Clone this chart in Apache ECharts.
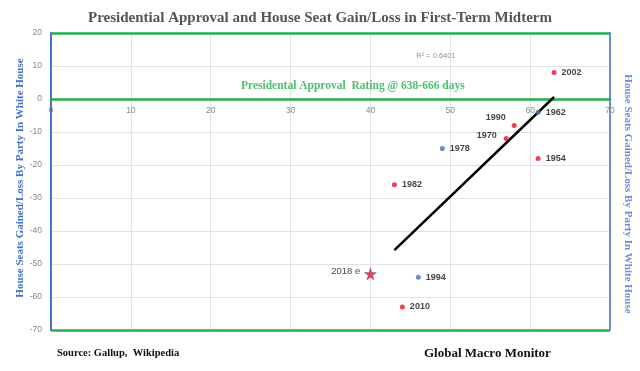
<!DOCTYPE html>
<html><head><meta charset="utf-8">
<script src="https://cdn.jsdelivr.net/npm/echarts@6/dist/echarts.min.js"></script>
<style>html,body{margin:0;padding:0;background:#fff}#c{width:640px;height:371px}</style>
</head><body><div id="c"></div>
<script>
const years = ['2002','1962','1990','1970','1978','1954','1982','1994','2010','2018 e'];
const approval = [63, 61, 58, 57, 49, 61, 43, 46, 44, 40];
const seats = [8, -4, -8, -12, -15, -18, -26, -54, -63, -53];
const dotColor = ['red','blue','red','red','blue','red','red','blue','red','star'];
const trendX = [43, 63];
const trendY = [-45.8, 0.6];

const RED = '#e8102a', BLUE = '#4472c4', GREEN = '#1fb04a', LBLUE = '#6a8fd8';
const starPath = 'path://M50,0 L61,35 L98,35 L68,57 L79,91 L50,70 L21,91 L32,57 L2,35 L39,35 Z';
const labelPos = {'1990':[-26,-10], '1970':[-27,-5], '2018 e':[-33,-1]};
const pts = years.map((y,i)=>{
  const isStar = dotColor[i]==='star';
  const off = labelPos[y];
  return {
    value:[approval[i], seats[i]],
    name:y,
    symbol: isStar ? starPath : 'circle',
    symbolSize: isStar ? 12 : 5,
    itemStyle:{color: isStar ? RED : (dotColor[i]==='blue'?BLUE:RED),
               borderColor: isStar ? '#2a3a8a' : null, borderWidth: isStar?0.4:0},
    label:{show:true, formatter:y, position: off ? off : 'right', distance:5,
           fontWeight: isStar ? 'normal' : 'bold', fontSize: isStar ? 9.5 : 9}
  };
});

const chart = echarts.init(document.getElementById('c'));
chart.setOption({
  animation:false,
  title:{text:'Presidential Approval and House Seat Gain/Loss in First-Term Midterm',
    left:'center', top:6,
    textStyle:{fontFamily:'Liberation Serif', fontWeight:'bold', fontSize:15, color:'#555'}},
  grid:{left:51, right:30, top:33, bottom:41},
  xAxis:{type:'value', min:0, max:70, interval:10, position:'bottom', offset:-231,
    axisLine:{show:true, onZero:false, lineStyle:{color:GREEN, width:2.5}},
    axisTick:{show:false},
    axisLabel:{color:'#888', fontSize:8.5, fontFamily:'Liberation Sans', margin:7},
    splitLine:{show:true, lineStyle:{color:'#e2e2e2', width:1}}},
  yAxis:[{type:'value', min:-70, max:20, interval:10,
    axisLine:{show:true, onZero:false, lineStyle:{color:BLUE, width:2}},
    axisTick:{show:false},
    axisLabel:{color:'#888', fontSize:8.5, fontFamily:'Liberation Sans', margin:9},
    splitLine:{show:true, lineStyle:{color:'#e2e2e2', width:1}}},
   {type:'value', min:-70, max:20, interval:10, position:'right',
    axisLine:{show:true, onZero:false, lineStyle:{color:LBLUE, width:2}},
    axisTick:{show:false}, axisLabel:{show:false}, splitLine:{show:false}}],
  series:[
    {type:'line', data: trendX.map((x,i)=>[x,trendY[i]]), symbol:'none',
     lineStyle:{color:'#000', width:2.5}, z:3,
     markLine:{silent:true, symbol:'none', label:{show:false},
       lineStyle:{color:GREEN, width:2.5, type:'solid'},
       data:[{yAxis:20},{yAxis:-70}]}},
    {type:'scatter', data:pts, z:5,
     label:{color:'#111', fontFamily:'Liberation Sans'}},
    {type:'scatter', symbolSize:0, silent:true, z:4,
     data:[{value:[48.2,13], label:{show:true, position:'inside', formatter:'R² = 0.6401',
        color:'#777', fontSize:7.5, fontFamily:'Liberation Sans'}},
       {value:[37.8,3.9], label:{show:true, position:'inside',
        formatter:'Presidental Approval  Rating @ 638-666 days',
        color:GREEN, fontSize:11.5, fontWeight:'bold', fontFamily:'Liberation Serif'}}]}
  ],
  graphic:[
    {type:'text', x:20, y:178, rotation:Math.PI/2,
      style:{text:'House Seats Gained/Loss By Party In White House', fill:BLUE,
      font:'bold 11px "Liberation Serif"', align:'center', verticalAlign:'middle'}},
    {type:'text', x:628, y:194, rotation:-Math.PI/2,
      style:{text:'House Seats Gained/Loss By Party In White House', fill:LBLUE,
      font:'bold 11px "Liberation Serif"', align:'center', verticalAlign:'middle'}},
    {type:'text', left:57, top:348, style:{text:'Source: Gallup,  Wikipedia', fill:'#111',
      font:'bold 10.5px "Liberation Serif"'}},
    {type:'text', left:424, top:347, style:{text:'Global Macro Monitor', fill:'#111',
      font:'bold 13px "Liberation Serif"'}}
  ]
});
</script></body></html>
